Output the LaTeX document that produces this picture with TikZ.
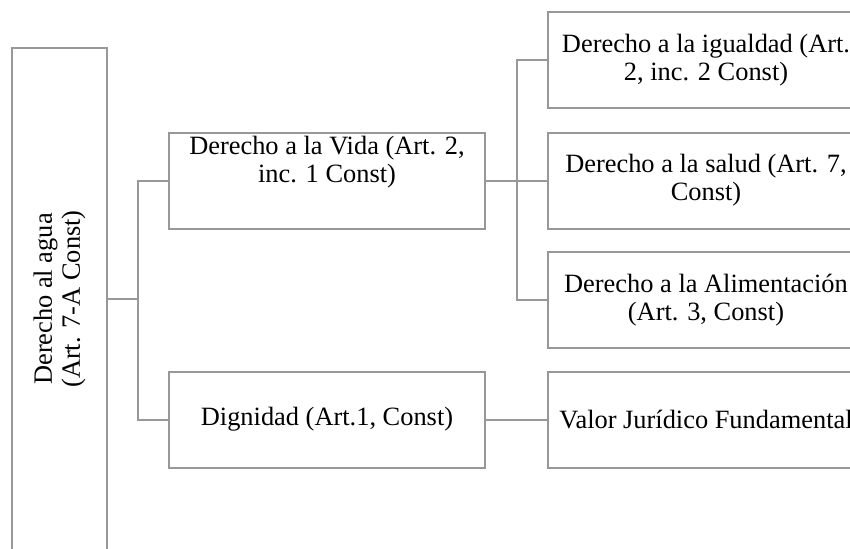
\documentclass[tikz,border=0pt]{standalone}
\usepackage{fontspec}
\setmainfont{Liberation Serif}
\usepackage{xcolor}
\usepackage{tikz}
\usetikzlibrary{positioning}
\definecolor{linegray}{RGB}{152,152,152}

\begin{document}
\begin{tikzpicture}[
    x=0.5pt, y=-0.5pt,
    font=\fontsize{13.2pt}{14pt}\selectfont,
    box/.style={rectangle, draw=linegray, line width=1pt, align=center, minimum width=158pt, minimum height=48pt},
    link/.style={draw=linegray, line width=1pt}
]
    \useasboundingbox (0,0) rectangle (850,548);
    \clip (0,0) rectangle (850,548);

    % Root
    \node[box, rotate=90, minimum width=251pt, minimum height=47.5pt] (agua) at (59.5,299) {Derecho al agua\\(Art. 7-A Const)};

    % Second level
    \node[box] (vida) at (327,180.5) {};
    \node[align=center, anchor=north, inner sep=2pt] (vidatxt) at (vida.north) {Derecho a la Vida (Art. 2,\\inc. 1 Const)};
    \node[box] (dignidad) at (327,419.5) {Dignidad (Art.1, Const)};

    % Third level
    \node[box] (igualdad) at (706,60) {Derecho a la igualdad (Art.\\2, inc. 2 Const)};
    \node[box] (salud) at (706,180.5) {Derecho a la salud (Art. 7,\\Const)};
    \node[box] (alimento) at (706,300) {Derecho a la Alimentación\\(Art. 3, Const)};
    \node[box] (valor) at (706,419.5) {Valor Jurídico Fundamental};

    % Connectors
    \coordinate (j1) at (138,299);
    \coordinate (j2) at (517,180.5);
    \draw[link] (agua.south) -- (j1);
    \draw[link] (vida.west) -| (j1) |- (dignidad.west);
    \draw[link] (vida.east) -- (salud.west);
    \draw[link] (igualdad.west) -| (j2) |- (alimento.west);
    \draw[link] (dignidad.east) -- (valor.west);

\end{tikzpicture}
\end{document}
